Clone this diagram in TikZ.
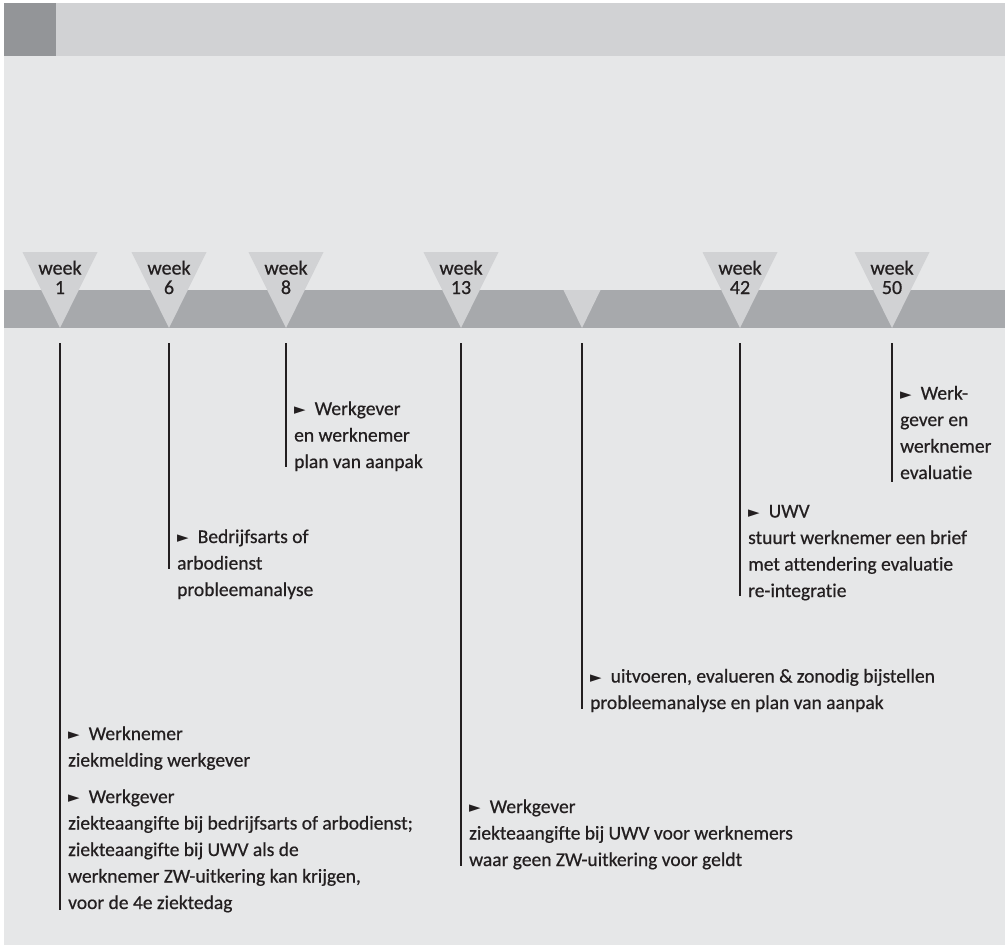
\documentclass[tikz,border=0pt]{standalone}
\usepackage{fontspec}
\setmainfont{Carlito}[FakeBold=0.6, Ligatures=NoCommon]
\newfontfamily\symfont{DejaVu Sans}
\usetikzlibrary{positioning}
\definecolor{header}{RGB}{209,210,212}
\definecolor{corner}{RGB}{147,149,152}
\definecolor{background}{RGB}{230,231,232}
\definecolor{timeline}{RGB}{167,169,172}
\definecolor{marker}{RGB}{209,210,212}
\definecolor{ink}{RGB}{35,31,32}
\newcommand{\pointer}{\raisebox{0.5pt}{\symfont\fontsize{15}{15}\selectfont ►}\hspace{9pt}}

\begin{document}
\begin{tikzpicture}[x=1pt, y=-1pt,
    % Node styles
    weeklabel/.style={align=center, font=\fontsize{20}{19.5}\selectfont, text=ink, inner sep=0pt, anchor=base},
    note/.style={anchor=base west, align=left, font=\fontsize{19.5}{26.5}\selectfont, text=ink, inner sep=0pt},
    % Line styles
    tick/.style={line width=2.4pt, color=ink},
    pointer/.style={fill=marker}
]
\useasboundingbox (0,0) rectangle (1005,945);

% Background
\fill[white] (0,0) rectangle (1005,945);
\fill[background] (4,3) rectangle (1005,945);
\fill[header] (4,3) rectangle (1005,56);
\fill[corner] (4,3) rectangle (56,56);

% Timeline band
\fill[timeline] (4,290) rectangle (1005,328);

% Week markers
\fill[pointer] (60,328) -- ++(-37.5,-76) -- ++(75,0) -- cycle;
\fill[pointer] (169,328) -- ++(-37.5,-76) -- ++(75,0) -- cycle;
\fill[pointer] (286,328) -- ++(-37.5,-76) -- ++(75,0) -- cycle;
\fill[pointer] (461,328) -- ++(-37.5,-76) -- ++(75,0) -- cycle;
\fill[pointer] (582,328) -- ++(-18.5,-38) -- ++(37,0) -- cycle;
\fill[pointer] (740,328) -- ++(-37.5,-76) -- ++(75,0) -- cycle;
\fill[pointer] (892,328) -- ++(-37.5,-76) -- ++(75,0) -- cycle;

\node[weeklabel] (week1) at (60,294) {week\\1};
\node[weeklabel] (week6) at (169,294) {week\\6};
\node[weeklabel] (week8) at (286,294) {week\\8};
\node[weeklabel] (week13) at (461,294) {week\\13};
\node[weeklabel] (week42) at (740,294) {week\\42};
\node[weeklabel] (week50) at (892,294) {week\\50};

% Tick lines
\coordinate (w1top) at (60,343);    \coordinate (w1end) at (60,910);
\coordinate (w6top) at (169,343);   \coordinate (w6end) at (169,569);
\coordinate (w8top) at (286,343);   \coordinate (w8end) at (286,467);
\coordinate (w13top) at (461,343);  \coordinate (w13end) at (461,866);
\coordinate (midtop) at (582,343);  \coordinate (midend) at (582,709);
\coordinate (w42top) at (740,343);  \coordinate (w42end) at (740,596);
\coordinate (w50top) at (892,343);  \coordinate (w50end) at (892,482);

\draw[tick] (w1top) -- (w1end);
\draw[tick] (w6top) -- (w6end);
\draw[tick] (w8top) -- (w8end);
\draw[tick] (w13top) -- (w13end);
\draw[tick] (midtop) -- (midend);
\draw[tick] (w42top) -- (w42end);
\draw[tick] (w50top) -- (w50end);

% Notes
\node[note] (note1) at (68,909) {\pointer Werknemer\\
    ziekmelding werkgever\\[10pt]
    \pointer Werkgever\\
    ziekteaangifte bij bedrijfsarts of arbodienst;\\
    ziekteaangifte bij UWV als de\\
    werknemer ZW-uitkering kan krijgen,\\
    voor de 4e ziektedag};
\node[note] (note6) at (177,596) {\pointer Bedrijfsarts of\\arbodienst\\probleemanalyse};
\node[note] (note8) at (294,468) {\pointer Werkgever\\en werknemer\\plan van aanpak};
\node[note] (note13) at (469,866) {\pointer Werkgever\\ziekteaangifte bij UWV voor werknemers\\waar geen ZW-uitkering voor geldt};
\node[note] (notemid) at (590,709) {\pointer uitvoeren, evalueren \& zonodig bijstellen\\probleemanalyse en plan van aanpak};
\node[note] (note42) at (748,597) {\pointer UWV\\stuurt werknemer een brief\\met attendering evaluatie\\re-integratie};
\node[note] (note50) at (900,479) {\pointer Werk-\\gever en\\werknemer\\evaluatie};

\end{tikzpicture}
\end{document}
